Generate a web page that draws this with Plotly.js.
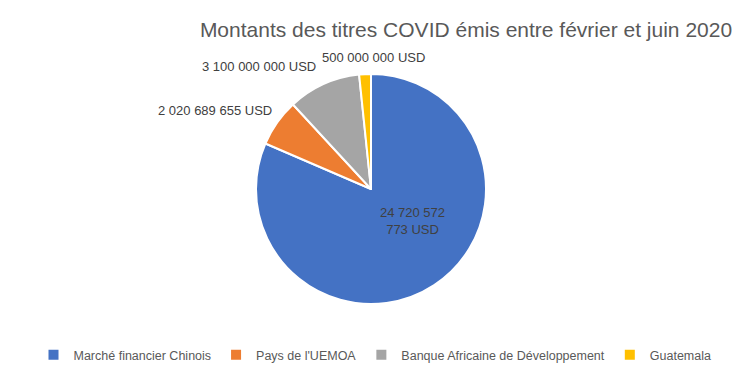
<!DOCTYPE html>
<html>
<head>
<meta charset="utf-8">
<script src="https://cdn.plot.ly/plotly-3.0.1.min.js"></script>
<style>html,body{margin:0;padding:0;background:#fff;}#chart{width:754px;height:374px;}</style>
</head>
<body>
<div id="chart"></div>
<script>
var categories = ["Marché financier Chinois", "Pays de l'UEMOA", "Banque Africaine de Développement", "Guatemala"];
var values = [24720572773, 2020689655, 3100000000, 500000000];
var colors = ["#4472C4", "#ED7D31", "#A5A5A5", "#FFC000"];
var title = "Montants des titres COVID émis entre février et juin 2020";

function fmt(v) {
  return String(Math.round(v)).replace(/\B(?=(\d{3})+(?!\d))/g, " ");
}
var texts = values.map(function (v) { return fmt(v) + " USD"; });
// the large label wraps onto two lines as in the reference
texts[0] = texts[0].replace(/^(\S+ \S+ \S+) /, "$1<br>");

var FONT = "Liberation Sans, Arial, sans-serif";
var labelFont = { family: FONT, size: 13, color: "#404040" };

var trace = {
  type: "pie",
  labels: categories,
  values: values,
  textinfo: "none",
  sort: false,
  direction: "clockwise",
  rotation: 0,
  marker: { colors: colors, line: { color: "#FFFFFF", width: 2 } },
  hoverinfo: "label+value",
  domain: { x: [256 / 754, 486 / 754], y: [1 - 304 / 374, 1 - 74 / 374] }
};

// data labels placed as Excel's "best fit" did in the reference
var labelPos = [
  { x: 412, y: 221, xanchor: "center" },
  { x: 274, y: 110, xanchor: "right" },
  { x: 318, y: 66, xanchor: "right" },
  { x: 320, y: 58, xanchor: "left" }
];
var annotations = texts.map(function (t, i) {
  return {
    text: t,
    xref: "paper", yref: "paper",
    x: labelPos[i].x / 754,
    y: 1 - labelPos[i].y / 374,
    xanchor: labelPos[i].xanchor,
    yanchor: "middle",
    showarrow: false,
    align: "center",
    font: labelFont
  };
});

var layout = {
  width: 754,
  height: 374,
  margin: { l: 0, r: 0, t: 0, b: 0 },
  paper_bgcolor: "#FFFFFF",
  title: {
    text: title,
    x: 466 / 754,
    xanchor: "center",
    y: 1 - 30 / 374,
    yanchor: "middle",
    font: { family: FONT, size: 21, color: "#595959" }
  },
  annotations: annotations,
  showlegend: true,
  legend: {
    orientation: "h",
    x: 375 / 754,
    xanchor: "center",
    y: 1 - 355 / 374,
    yanchor: "middle",
    font: { family: FONT, size: 12.5, color: "#595959" },
    itemwidth: 30
  }
};

Plotly.newPlot("chart", [trace], layout, { displayModeBar: false, staticPlot: true });
</script>
</body>
</html>
